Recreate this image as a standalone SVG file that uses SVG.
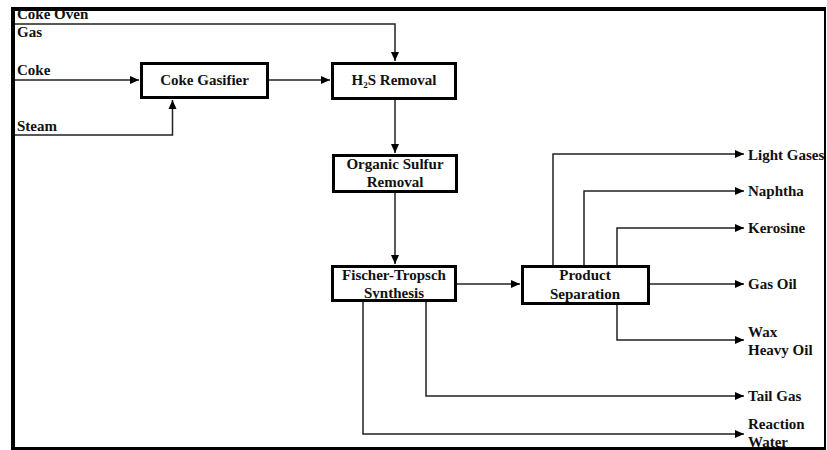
<svg xmlns="http://www.w3.org/2000/svg" width="827" height="450" viewBox="0 0 827 450">
<defs>
<style>
text{font-family:'Liberation Serif','DejaVu Serif',serif;font-weight:700;font-size:15px;fill:#111}
.c{text-anchor:middle}
.box{fill:#fff;stroke:#000;stroke-width:3}
.ln{fill:none;stroke:#222;stroke-width:1.5;marker-end:url(#ah)}
</style>
<marker id="ah" markerUnits="userSpaceOnUse" markerWidth="10" markerHeight="10" refX="9" refY="5" orient="auto">
<path d="M0,1 L9,5 L0,9 Z" fill="#000"/>
</marker>
</defs>
<rect x="0" y="0" width="827" height="450" fill="#fff"/>
<g id="frame">
<rect x="11" y="7" width="815" height="4" fill="#000"/>
<rect x="11" y="7" width="4" height="443" fill="#000"/>
<rect x="824" y="7" width="2" height="443" fill="#000"/>
<rect x="11" y="447" width="815" height="3" fill="#000"/>
</g>
<g id="connectors">
<path class="ln" d="M15,24 H395 V61"/>
<path class="ln" d="M15,80 H139"/>
<path class="ln" d="M15,135 H172.5 V100"/>
<path class="ln" d="M269,80 H330"/>
<path class="ln" d="M395,100 V153"/>
<path class="ln" d="M395,193 V264"/>
<path class="ln" d="M457,284 H520"/>
<path class="ln" d="M553,265 V154 H744"/>
<path class="ln" d="M584,265 V191 H744"/>
<path class="ln" d="M617,265 V228 H744"/>
<path class="ln" d="M650,284 H744"/>
<path class="ln" d="M617,305 V340 H744"/>
<path class="ln" d="M426,302 V396 H744"/>
<path class="ln" d="M363,302 V434 H744"/>
</g>
<g id="feeds">
<text x="17" y="19">Coke Oven</text>
<text x="17" y="37">Gas</text>
<text x="17" y="75">Coke</text>
<text x="17" y="131">Steam</text>
</g>
<g id="coke-gasifier">
<rect class="box" x="141.5" y="63.5" width="126" height="34"/>
<text class="c" x="204.5" y="85">Coke Gasifier</text>
</g>
<g id="h2s-removal">
<rect class="box" x="332.5" y="63.5" width="123" height="35"/>
<text class="c" x="394" y="85">H<tspan font-size="9" dy="3">2</tspan><tspan dy="-3">S Removal</tspan></text>
</g>
<g id="organic-sulfur-removal">
<rect class="box" x="333.5" y="155.5" width="123" height="36"/>
<text class="c" x="395" y="169">Organic Sulfur</text>
<text class="c" x="395" y="187">Removal</text>
</g>
<g id="fischer-tropsch">
<rect class="box" x="332.5" y="266.5" width="123" height="34"/>
<text class="c" x="394" y="280">Fischer-Tropsch</text>
<text class="c" x="394" y="298">Synthesis</text>
</g>
<g id="product-separation">
<rect class="box" x="522.5" y="266.5" width="126" height="37"/>
<text class="c" x="585" y="280">Product</text>
<text class="c" x="585" y="299">Separation</text>
</g>
<g id="products">
<text x="748" y="160">Light Gases</text>
<text x="748" y="196">Naphtha</text>
<text x="748" y="233">Kerosine</text>
<text x="748" y="289">Gas Oil</text>
<text x="748" y="337">Wax</text>
<text x="748" y="355">Heavy Oil</text>
<text x="748" y="401">Tail Gas</text>
<text x="748" y="429">Reaction</text>
<text x="748" y="447">Water</text>
</g>
</svg>
